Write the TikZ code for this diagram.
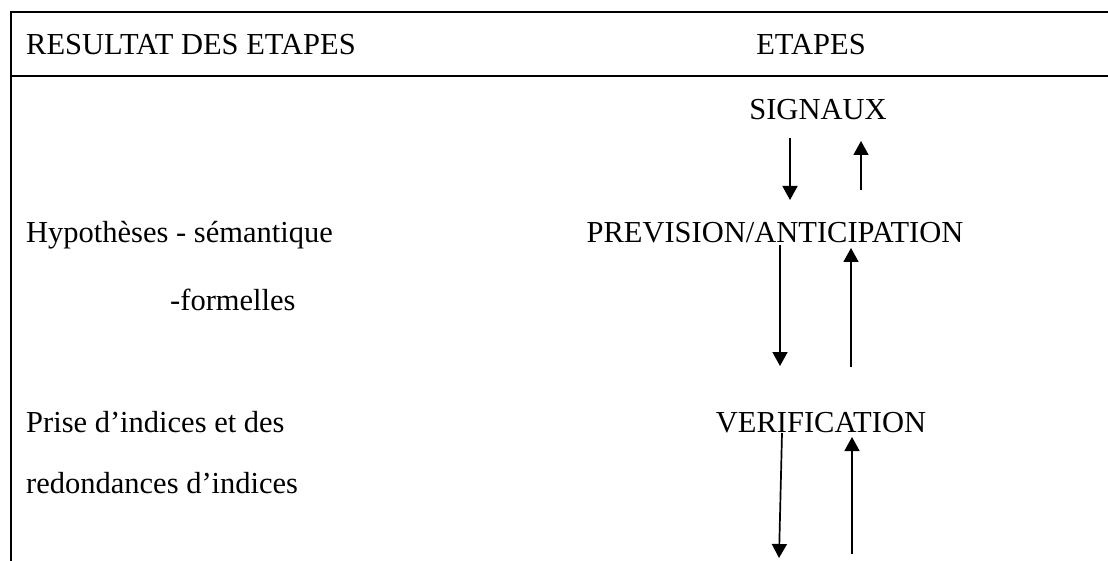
\documentclass[tikz,border=0pt]{standalone}
\usepackage{fontspec}
\setmainfont{Liberation Serif}
\usetikzlibrary{arrows.meta}
\begin{document}
\begin{tikzpicture}[x=1pt, y=-1pt,
		every node/.style={inner sep=0pt, font=\fontsize{30.5}{36}\selectfont},
		fleche/.style={line width=1.7pt, -{Triangle[length=14pt, width=15pt]}}]
		\useasboundingbox (0,0) rectangle (1108,561);
		% \draw[help lines, step=50] (0,0) grid (1108,561);
		\draw[line width=2pt] (1108,12) -- (11,12) -- (11,561);
		\draw[line width=2pt] (11,76) -- (1108,76);

		\node[anchor=base west] (resultat) at (26,55) {RESULTAT DES ETAPES};
		\node[anchor=base] (etapes) at (811,55) {ETAPES};

		\node[anchor=base] (signaux) at (818,120) {SIGNAUX};
		\node[anchor=base] (prevision) at (775,243) {PREVISION/ANTICIPATION};
		\node[anchor=base] (verif) at (821,432) {VERIFICATION};

		\node[anchor=base west] (hypo) at (26,243) {Hypothèses - sémantique};
		\node[anchor=base west] (formel) at (170,310) {-formelles};
		\node[anchor=base west] (prise) at (26,432) {Prise d’indices et des};
		\node[anchor=base west] (redond) at (26,493) {redondances d’indices};

		\coordinate (s1) at (790,138);
		\coordinate (p1) at (790,200);
		\coordinate (p2) at (861,190);
		\coordinate (s2) at (861,141);
		\coordinate (p3) at (780,245);
		\coordinate (v1) at (780,366);
		\coordinate (v2) at (851,367);
		\coordinate (p4) at (851,248);
		\coordinate (v3) at (782,433);
		\coordinate (b1) at (779,558);
		\coordinate (b2) at (852,554);
		\coordinate (v4) at (852,437);

		\draw[fleche] (s1) -- (p1);
		\draw[fleche] (p2) -- (s2);
		\draw[fleche] (p3) -- (v1);
		\draw[fleche] (v2) -- (p4);
		\draw[fleche] (v3) -- (b1);
		\draw[fleche] (b2) -- (v4);
	\end{tikzpicture}
\end{document}
